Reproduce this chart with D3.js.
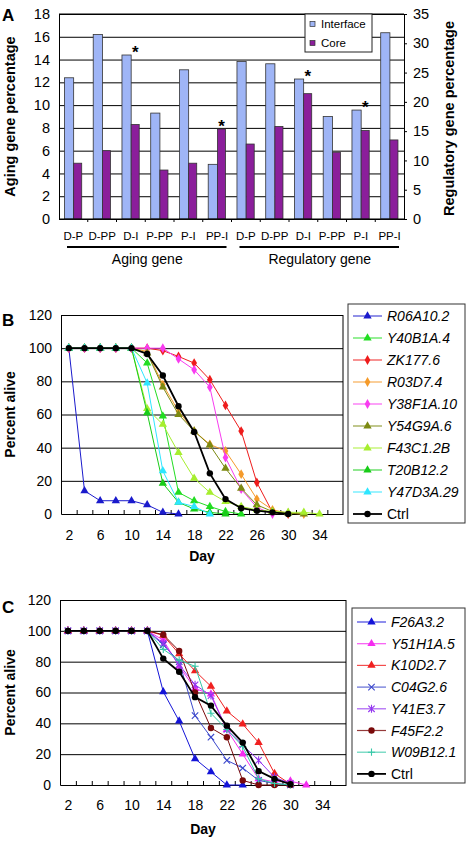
<!DOCTYPE html>
<html><head><meta charset="utf-8">
<script src="https://cdn.jsdelivr.net/npm/d3@7"></script>
<style>
body{margin:0;background:#fff}
svg{display:block}
text{font-family:"Liberation Sans",Arial,Helvetica,sans-serif;fill:#000}
</style>
</head><body>
<svg id="chart" width="472" height="844"></svg>
<script>
// ---------------- Panel A data ----------------
const categoriesA = ["D-P","D-PP","D-I","P-PP","P-I","PP-I"];
const groupsA = ["Aging gene","Regulatory gene"];
const agingInterface = [12.4,16.2,14.4,9.3,13.1,4.8];
const agingCore      = [4.9,6.0,8.3,4.3,4.9,7.9];
const regInterface   = [26.9,26.5,23.9,17.5,18.6,31.8];
const regCore        = [12.8,15.8,21.4,11.4,15.1,13.5];
const starsA = [["Aging gene","D-I"],["Aging gene","PP-I"],["Regulatory gene","D-I"],["Regulatory gene","P-I"]];
const ticksLeftA  = [0,2,4,6,8,10,12,14,16,18];
const ticksRightA = [0,5,10,15,20,25,30,35];
const legendA = ["Interface","Core"];
const colorsA = ["#9fb5f6","#8b1e9b"];

// ---------------- Panel B data ----------------
const daysB = [2,4,6,8,10,12,14,16,18,20,22,24,26,28,30,32,34];
const dayLabels = [2,6,10,14,18,22,26,30,34];
const yTicksSurv = [0,20,40,60,80,100,120];
const namesB = ["R06A10.2","Y40B1A.4","ZK177.6","R03D7.4","Y38F1A.10","Y54G9A.6","F43C1.2B","T20B12.2","Y47D3A.29","Ctrl"];
const R06A10_2  = [100,14,8,8,8,5.5,1,0];
const Y40B1A_4  = [100,100,100,100,100,91,59,13,8,4.5,1.5,0];
const ZK177_6   = [100,100,100,100,100,100,98.5,95,91,81,65.5,50,19,1,0];
const R03D7_4   = [100,100,100,100,100,98,78,62,50,42,38,24,9,2.5,0.5,0];
const Y38F1A_10 = [100,100,100,100,100,100,100,93.5,87,76.5,34,15,4,0];
const Y54G9A_6  = [100,100,100,100,100,97,76.5,60,50,41.5,27.5,15.5,5.5,1.5,0.5,0];
const F43C1_2B  = [100,100,100,100,100,63.5,54,37,21.5,13,7.5,4.5,2.5,1.5,1,1,0];
const T20B12_2  = [100,100,100,100,100,61,18.5,7,3,1,0];
const Y47D3A_29 = [100,100,100,100,100,79,26,7,4.5,0];
const CtrlB     = [100,100,100,100,100,96.5,83.5,65,49.5,24.5,9,3.5,2,1,0];
const valuesB = [R06A10_2,Y40B1A_4,ZK177_6,R03D7_4,Y38F1A_10,Y54G9A_6,F43C1_2B,T20B12_2,Y47D3A_29,CtrlB];
const colorsB = ["#1a1acc","#22dd22","#ee1c1c","#f59a2a","#f83cf0","#7c8a12","#a6ee2e","#18cc18","#2ee6ff","#000000"];
const shapesB = ["tri","tri","dia","dia","dia","tri","tri","tri","tri","circ"];

// ---------------- Panel C data ----------------
const namesC = ["F26A3.2","Y51H1A.5","K10D2.7","C04G2.6","Y41E3.7","F45F2.2","W09B12.1","Ctrl"];
const F26A3_2  = [100,100,100,100,100,100,60.5,41.5,17,8.5,0,0];
const Y51H1A_5 = [100,100,100,100,100,100,94,77,62.5,59,36,20,4,2,2.5,0];
const K10D2_7  = [100,100,100,100,100,100,97,85,74,64,48,39.5,27.5,7.5,0.5];
const C04G2_6  = [100,100,100,100,100,100,91,80,45,31,16,11,3,1,0];
const Y41E3_7  = [100,100,100,100,100,100,92,78,65,58,36,26,16,5,1];
const F45F2_2  = [100,100,100,100,100,100,97.5,87,60,37,31,3,0,0,0];
const W09B12_1 = [100,100,100,100,100,100,88,81,77,46.5,36,25,4,1,0];
const CtrlC    = [100,100,100,100,100,100,82,73.5,57,51.5,38.5,27.5,9,4,0.5];
const valuesC = [F26A3_2,Y51H1A_5,K10D2_7,C04G2_6,Y41E3_7,F45F2_2,W09B12_1,CtrlC];
const colorsC = ["#1414d8","#f52cf0","#f02020","#3c48cc","#9436f0","#7a0a0a","#36c8a8","#000000"];
const shapesC = ["tri","tri","tri","x","ast","circ","plus","circ"];

const FONT = '"Liberation Sans",Arial,Helvetica,sans-serif';
const svg = d3.select("#chart");

// ================= Panel A =================
(function(){
  const L=59, R=404, T=14, B=219;
  const keys = [];
  groupsA.forEach(g=>categoriesA.forEach(c=>keys.push(g+"|"+c)));
  const x = d3.scaleBand().domain(keys).range([L,R]);
  const yL = d3.scaleLinear().domain([0,18]).range([B,T]);
  const yR = d3.scaleLinear().domain([0,35]).range([B,T]);
  const bw = x.bandwidth();
  const g = svg.append("g");

  // gridlines
  g.append("g").attr("transform",`translate(${L},0)`)
    .call(d3.axisLeft(yL).tickValues(ticksLeftA).tickSize(-(R-L)).tickFormat(""))
    .call(s=>s.select(".domain").remove())
    .call(s=>s.selectAll("line").attr("stroke","#000").attr("stroke-width",1));
  // left labels
  g.append("g").attr("transform",`translate(${L},0)`)
    .call(d3.axisLeft(yL).tickValues(ticksLeftA).tickSize(0).tickPadding(9))
    .call(s=>s.select(".domain").attr("stroke","#000"))
    .call(s=>s.selectAll("text").style("font-size","14.5px").style("font-family",FONT));
  // right axis
  g.append("g").attr("transform",`translate(${R},0)`)
    .call(d3.axisRight(yR).tickValues(ticksRightA).tickSize(3).tickPadding(6))
    .call(s=>s.select(".domain").attr("stroke","#000"))
    .call(s=>s.selectAll("line").attr("stroke","#000"))
    .call(s=>s.selectAll("text").style("font-size","14.5px").style("font-family",FONT));

  // bars
  const rows = [];
  groupsA.forEach((gr,gi)=>categoriesA.forEach((c,ci)=>{
    const yS = gi===0? yL : yR;
    const vi = gi===0? agingInterface[ci] : regInterface[ci];
    const vc = gi===0? agingCore[ci] : regCore[ci];
    rows.push({key:gr+"|"+c, yS, vi, vc});
  }));
  rows.forEach(r=>{
    const x0 = x(r.key);
    g.append("rect").attr("x",x0+bw*0.19).attr("width",bw*0.32)
      .attr("y",r.yS(r.vi)).attr("height",B-r.yS(r.vi))
      .attr("fill",colorsA[0]).attr("stroke","#333").attr("stroke-width",0.8);
    g.append("rect").attr("x",x0+bw*0.51).attr("width",bw*0.28)
      .attr("y",r.yS(r.vc)).attr("height",B-r.yS(r.vc))
      .attr("fill",colorsA[1]).attr("stroke","#333").attr("stroke-width",0.8);
  });
  // x axis line + ticks
  g.append("line").attr("x1",L).attr("x2",R).attr("y1",B).attr("y2",B).attr("stroke","#000").attr("stroke-width",1.2);
  keys.forEach((k,i)=>{ if(i>0){ const xx=x(k);
    g.append("line").attr("x1",xx).attr("x2",xx).attr("y1",B).attr("y2",B+3).attr("stroke","#000"); }});
  // top border
  g.append("line").attr("x1",L).attr("x2",R).attr("y1",T).attr("y2",T).attr("stroke","#000");
  // category labels
  keys.forEach(k=>{
    g.append("text").attr("x",x(k)+bw/2).attr("y",240).attr("text-anchor","middle")
      .style("font-size","11.5px").text(k.split("|")[1]);
  });
  // group underline + labels
  groupsA.forEach((gr,gi)=>{
    const first = x(gr+"|"+categoriesA[0]), last = x(gr+"|"+categoriesA[5])+bw;
    g.append("line").attr("x1",first+8).attr("x2",last-5).attr("y1",247).attr("y2",247)
      .attr("stroke","#000").attr("stroke-width",2);
    g.append("text").attr("x",(first+last)/2+2).attr("y",264).attr("text-anchor","middle")
      .style("font-size","14px").text(gr);
  });
  // stars
  starsA.forEach(([gr,c])=>{
    const r = rows.find(d=>d.key===gr+"|"+c);
    const top = Math.min(r.yS(r.vi), r.yS(r.vc));
    g.append("text").attr("x",x(r.key)+bw*0.65).attr("y",top+3).attr("text-anchor","middle")
      .style("font-size","17px").style("font-weight","bold").text("*");
  });
  // legend
  const lg = g.append("g");
  lg.append("rect").attr("x",305).attr("y",14).attr("width",67).attr("height",38)
    .attr("fill","#fff").attr("stroke","#222").attr("stroke-width",1);
  legendA.forEach((t,i)=>{
    lg.append("rect").attr("x",310).attr("y",21.5+i*19).attr("width",5).attr("height",5)
      .attr("fill",colorsA[i]).attr("stroke","#333").attr("stroke-width",0.7);
    lg.append("text").attr("x",321).attr("y",27.8+i*19).style("font-size","11.5px").text(t);
  });
  // titles
  g.append("text").attr("transform",`translate(15,${(T+B)/2}) rotate(-90)`).attr("text-anchor","middle")
    .style("font-size","14.5px").style("font-weight","bold").text("Aging gene percentage");
  g.append("text").attr("transform",`translate(454,${(T+B)/2+2}) rotate(-90)`).attr("text-anchor","middle")
    .style("font-size","14.5px").style("font-weight","bold").text("Regulatory gene percentage");
  g.append("text").attr("x",2).attr("y",21).style("font-size","17px").style("font-weight","bold").text("A");
})();

// ================= marker helper =================
function marker(g, shape, color, cx, cy){
  if(shape==="tri"){
    g.append("path").attr("d",d3.symbol(d3.symbolTriangle,30)()).attr("transform",`translate(${cx},${cy})`).attr("fill",color);
  } else if(shape==="dia"){
    g.append("path").attr("d",d3.symbol(d3.symbolDiamond,28)()).attr("transform",`translate(${cx},${cy})`).attr("fill",color);
  } else if(shape==="circ"){
    g.append("circle").attr("cx",cx).attr("cy",cy).attr("r",3.2).attr("fill",color);
  } else if(shape==="x"){
    const s=3.2;
    g.append("path").attr("d",`M${cx-s},${cy-s}L${cx+s},${cy+s}M${cx-s},${cy+s}L${cx+s},${cy-s}`).attr("stroke",color).attr("stroke-width",1.1).attr("fill","none");
  } else if(shape==="ast"){
    const s=3.2;
    g.append("path").attr("d",`M${cx-s},${cy-s}L${cx+s},${cy+s}M${cx-s},${cy+s}L${cx+s},${cy-s}M${cx},${cy-s-0.8}L${cx},${cy+s+0.8}`).attr("stroke",color).attr("stroke-width",1.1).attr("fill","none");
  } else if(shape==="plus"){
    const s=3.6;
    g.append("path").attr("d",`M${cx-s},${cy}L${cx+s},${cy}M${cx},${cy-s}L${cx},${cy+s}`).attr("stroke",color).attr("stroke-width",1.1).attr("fill","none");
  }
}

// ================= survival panels =================
function survPanel(o){
  const g = svg.append("g");
  const x = d3.scaleLinear().domain([1,37]).range([o.L,o.R]);
  const y = d3.scaleLinear().domain([0,120]).range([o.B,o.T]);
  // gridlines
  g.append("g").attr("transform",`translate(${o.L},0)`)
    .call(d3.axisLeft(y).tickValues(yTicksSurv.slice(1)).tickSize(-(o.R-o.L)).tickFormat(""))
    .call(s=>s.select(".domain").remove())
    .call(s=>s.selectAll("line").attr("stroke","#000").attr("stroke-width",1));
  // border
  g.append("line").attr("x1",o.R).attr("x2",o.R).attr("y1",o.T).attr("y2",o.B).attr("stroke","#000");
  // y axis
  g.append("g").attr("transform",`translate(${o.L},0)`)
    .call(d3.axisLeft(y).tickValues(yTicksSurv).tickSize(0).tickPadding(9))
    .call(s=>s.select(".domain").attr("stroke","#000"))
    .call(s=>s.selectAll("text").style("font-size","14px").style("font-family",FONT));
  // x axis
  g.append("g").attr("transform",`translate(0,${o.B})`)
    .call(d3.axisBottom(x).tickValues(dayLabels).tickSize(0).tickPadding(o.xPad))
    .call(s=>s.select(".domain").attr("stroke","#000").attr("stroke-width",1.2))
    .call(s=>s.selectAll("text").style("font-size","14px").style("font-family",FONT));
  g.append("g").attr("transform",`translate(0,${o.B})`)
    .call(d3.axisTop(x).tickValues(d3.range(3,37,2)).tickSize(4).tickFormat(""))
    .call(s=>s.select(".domain").remove())
    .call(s=>s.selectAll("line").attr("stroke","#000"));
  // series
  const line = d3.line().x((d,i)=>x(daysB[i])).y(d=>y(d));
  o.values.forEach((vals,si)=>{
    const isCtrl = o.names[si]==="Ctrl";
    g.append("path").attr("d",line(vals)).attr("fill","none")
      .attr("stroke",o.colors[si]).attr("stroke-width",isCtrl?1.8:1);
    vals.forEach((v,i)=>marker(g,o.shapes[si],o.colors[si],x(daysB[i]),y(v)));
  });
  // labels
  g.append("text").attr("transform",`translate(15,${(o.T+o.B)/2}) rotate(-90)`).attr("text-anchor","middle")
    .style("font-size","14px").style("font-weight","bold").text("Percent alive");
  g.append("text").attr("x",(o.L+o.R)/2+0).attr("y",o.dayY).attr("text-anchor","middle")
    .style("font-size","14px").style("font-weight","bold").text("Day");
  g.append("text").attr("x",2).attr("y",o.letterY).style("font-size","17px").style("font-weight","bold").text(o.letter);
  // legend
  const lg = g.append("g");
  lg.append("rect").attr("x",o.lgX).attr("y",o.lgY).attr("width",o.lgW).attr("height",o.lgH)
    .attr("fill","#fff").attr("stroke","#333").attr("stroke-width",1);
  o.names.forEach((n,i)=>{
    const yy = o.lgY0 + i*o.lgStep;
    const isCtrl = n==="Ctrl";
    lg.append("line").attr("x1",o.lgX+5).attr("x2",o.lgX+34).attr("y1",yy).attr("y2",yy)
      .attr("stroke",o.colors[i]).attr("stroke-width",isCtrl?1.8:1.2).attr("stroke-opacity",isCtrl?1:0.8);
    marker(lg,o.shapes[i],o.colors[i],o.lgX+19.5,yy);
    lg.append("text").attr("x",o.lgX+39).attr("y",yy+5)
      .style("font-size","14px").style("font-style",isCtrl?"normal":"italic").text(n);
  });
}

survPanel({L:61,R:343,T:315,B:514,xPad:16,dayY:561,letter:"B",letterY:326,
  names:namesB,values:valuesB,colors:colorsB,shapes:shapesB,
  lgX:348,lgY:304,lgW:117,lgH:219,lgY0:316,lgStep:22});
survPanel({L:60,R:346,T:600,B:785,xPad:15.5,dayY:834,letter:"C",letterY:613,
  names:namesC,values:valuesC,colors:colorsC,shapes:shapesC,
  lgX:352,lgY:608,lgW:113,lgH:175,lgY0:622,lgStep:21.7});
</script>
</body></html>
